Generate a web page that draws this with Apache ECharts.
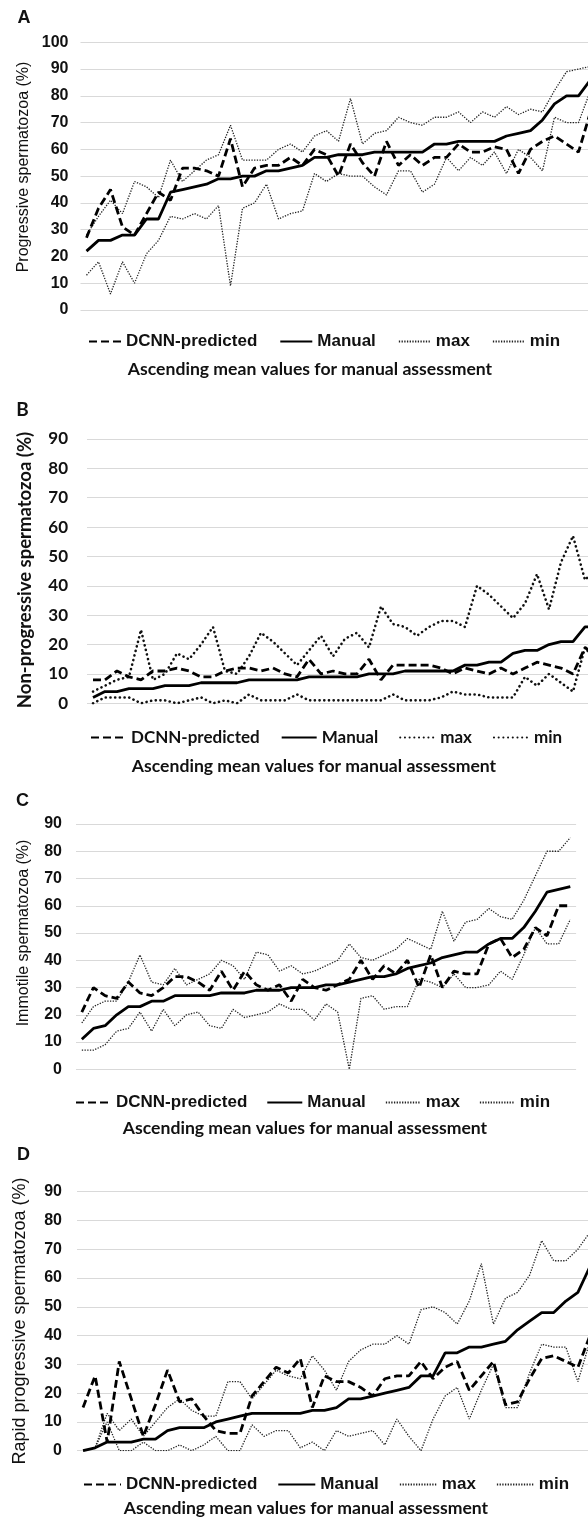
<!DOCTYPE html>
<html>
<head>
<meta charset="utf-8">
<script src="https://cdn.jsdelivr.net/npm/echarts@6/dist/echarts.min.js"></script>
<style>
  html, body { margin: 0; padding: 0; background: #fff; }
  body { width: 588px; height: 1519px; overflow: hidden; position: relative; }
  .panel { position: absolute; left: 0; width: 610px; }
</style>
</head>
<body>
<div id="pa" class="panel" style="top:0;height:380px"></div>
<div id="pb" class="panel" style="top:380px;height:395px"></div>
<div id="pc" class="panel" style="top:775px;height:365px"></div>
<div id="pd" class="panel" style="top:1140px;height:379px"></div>
<script>
// samples, sorted by the manual mean (no labels shown on the axis)
const samples = Array.from({ length: 43 }, (_, i) => String(i + 1))

// A - progressive
const progDcnn = [27,38,45,31,28,36,44,41,53,53,52,50,64,46,53,54,54,57,54,60,58,50,62,55,50,63,54,58,54,57,57,62,59,59,61,60,51,60,63,65,62,59,74]
const progManual = [22,26,26,28,28,34,34,44,45,46,47,49,49,50,50,52,52,53,54,57,57,58,58,58,59,59,59,59,59,62,62,63,63,63,63,65,66,67,71,77,80,80,86]
const progMax = [28,35,41,36,48,46,42,56,48,52,56,58,69,56,56,56,60,62,59,65,67,63,79,62,66,67,72,70,69,72,72,74,70,74,72,76,73,75,74,82,89,90,91]
const progMin = [13,18,6,18,10,21,26,35,34,36,34,39,9,38,40,47,34,36,37,51,48,51,50,50,46,43,52,52,44,47,57,52,57,54,59,51,60,57,52,72,70,70,82]

// B - non-progressive
const nonDcnn = [8,8,11,9,8,11,11,12,11,9,9,11,12,12,11,12,10,9,15,10,11,10,10,15,8,13,13,13,13,12,10,12,11,10,12,10,12,14,13,12,10,19,16]
const nonManual = [2,4,4,5,5,5,6,6,6,7,7,7,7,8,8,8,8,8,9,9,9,9,9,10,10,10,11,11,11,11,11,13,13,14,14,17,18,18,20,21,21,26,26]
const nonMax = [4,6,8,9,25,8,10,17,15,20,26,11,10,16,24,21,17,13,18,23,16,22,24,19,33,27,26,23,26,28,28,26,40,37,33,29,34,44,32,48,57,42,46]
const nonMin = [0,2,2,2,0,1,1,0,1,2,0,1,0,3,1,1,1,3,1,1,1,1,1,1,1,3,1,1,1,2,4,3,3,2,2,2,9,6,10,7,4,19,14]

// C - immotile
const immDcnn = [21,30,27,26,32,28,27,30,34,34,32,29,36,29,36,31,29,31,25,33,30,29,31,33,40,33,38,35,40,30,42,30,36,35,35,46,48,41,44,52,49,60,60]
const immManual = [11,15,16,20,23,23,25,25,27,27,27,27,28,28,28,29,29,29,30,30,30,31,31,32,33,34,34,35,37,38,39,41,42,43,43,46,48,48,52,58,65,66,67]
const immMax = [17,23,25,25,32,42,32,31,37,31,33,35,40,38,33,43,42,36,38,35,36,38,40,46,41,40,42,44,48,46,44,58,47,54,55,59,56,55,62,71,80,80,85]
const immMin = [7,7,9,14,15,21,14,22,16,20,21,16,15,22,19,20,21,24,22,22,18,24,21,0,26,27,22,23,23,33,32,30,35,30,30,31,36,33,42,52,46,46,55]

// D - rapid progressive
const rapidDcnn = [15,26,3,31,18,5,16,28,17,18,12,7,6,6,19,24,29,27,32,15,26,24,24,22,19,25,26,26,31,25,29,31,21,26,31,16,17,25,32,33,31,29,40]
const rapidManual = [0,1,3,3,3,4,4,7,8,8,8,10,11,12,13,13,13,13,13,14,14,15,18,18,19,20,21,22,26,26,34,34,36,36,37,38,42,45,48,48,52,55,64]
const rapidMax = [0,1,13,7,11,5,10,15,18,14,12,12,24,24,18,23,28,26,25,33,28,21,31,35,37,37,40,37,49,50,48,44,52,65,44,53,55,61,73,66,66,70,76]
const rapidMin = [0,1,10,0,0,3,0,0,2,0,2,5,0,0,9,5,7,7,1,3,0,7,5,6,7,2,11,5,0,11,19,22,11,21,30,15,15,27,37,36,36,24,38]

const legendNames = ['DCNN-predicted', 'Manual', 'max', 'min']
const xTitle = 'Ascending mean values for manual assessment'

const ARIAL = '"Liberation Sans", Arial, sans-serif'
const CALIBRI = 'Lato, "Open Sans", sans-serif'
const INK = '#111'

const thinDot = { color: '#222', width: 1.3, type: [1.3, 1.4] }
const boldDot = { color: '#111', width: 2.6, type: [0.1, 4.6], cap: 'round' }

function makePanel(id, p) {
  const chart = echarts.init(document.getElementById(id))
  const font = p.calibri ? CALIBRI : ARIAL
  const tickSize = p.calibri ? 17 : 16
  const line = (name, data, style, z) => ({
    name, type: 'line', data, symbol: 'none', silent: true, z,
    itemStyle: { color: style.color },
    lineStyle: style,
  })

  chart.setOption({
    animation: false,
    grid: { left: p.left, top: p.top, width: p.catW * samples.length, height: p.height },
    xAxis: {
      type: 'category', data: samples, boundaryGap: true,
      axisLine: { show: false }, axisTick: { show: false }, axisLabel: { show: false },
    },
    yAxis: {
      type: 'value', min: 0, max: p.ymax, interval: 10,
      axisLine: { show: false }, axisTick: { show: false },
      axisLabel: { margin: p.margin, fontFamily: font, fontSize: tickSize, fontWeight: 'bold', color: INK },
      splitLine: { lineStyle: { color: '#d9d9d9', width: 1.2 } },
    },
    legend: {
      data: legendNames, left: p.legend[0], top: p.legend[1],
      itemWidth: p.iconW, itemHeight: 14, itemGap: p.gap,
      itemStyle: { opacity: 0 },
      textStyle: { fontFamily: font, fontSize: 17, fontWeight: 'bold', color: INK },
    },
    graphic: [
      { type: 'text', x: p.tag[0], y: p.tag[1],
        style: { text: p.tagText, font: `bold ${p.calibri ? 19 : 18}px ${font}`, fill: INK, align: 'center', verticalAlign: 'middle' } },
      { type: 'text', x: p.yTitle[0], y: p.yTitle[1], rotation: Math.PI / 2,
        style: { text: p.yName, font: p.yFont, fill: INK, align: 'center', verticalAlign: 'middle' } },
      { type: 'text', x: p.xTitle[0], y: p.xTitle[1],
        style: { text: xTitle, font: `bold 17.6px ${CALIBRI}`, fill: INK, align: 'center', verticalAlign: 'middle' } },
    ],
    series: [
      line('max', p.max, p.dot, 2),
      line('min', p.min, p.dot, 2),
      line('DCNN-predicted', p.dcnn, { color: '#000', width: 2.8, type: [8, 4] }, 4),
      line('Manual', p.manual, { color: '#000', width: 2.8 }, 5),
    ],
  })
  return chart
}

makePanel('pa', {
  tagText: 'A', tag: [24, 18], yName: 'Progressive spermatozoa (%)', yFont: `16px ${ARIAL}`, yTitle: [24, 167],
  xTitle: [310, 369], left: 80.5, top: 42.3, height: 267.7, catW: 12, ymax: 100, margin: 12,
  legend: [83, 328], iconW: 32, gap: 22, dot: thinDot,
  dcnn: progDcnn, manual: progManual, max: progMax, min: progMin,
})

makePanel('pb', {
  tagText: 'B', tag: [22.5, 30], yName: 'Non-progressive spermatozoa (%)', yFont: `bold 18.5px ${CALIBRI}`, yTitle: [25.5, 190],
  xTitle: [314, 386], left: 87, top: 59, height: 264.3, catW: 12, ymax: 90, margin: 19, calibri: true,
  legend: [85, 344], iconW: 35, gap: 21, dot: boldDot,
  dcnn: nonDcnn, manual: nonManual, max: nonMax, min: nonMin,
})

makePanel('pc', {
  tagText: 'C', tag: [22.5, 26], yName: 'Immotile spermatozoa (%)', yFont: `16px ${ARIAL}`, yTitle: [23.5, 158],
  xTitle: [305, 353], left: 76, top: 49, height: 245.3, catW: 11.63, ymax: 90, margin: 14,
  legend: [70, 314], iconW: 35, gap: 19, dot: thinDot,
  dcnn: immDcnn, manual: immManual, max: immMax, min: immMin,
})

makePanel('pd', {
  tagText: 'D', tag: [23.5, 15], yName: 'Rapid progressive spermatozoa (%)', yFont: `18px ${ARIAL}`, yTitle: [20, 181],
  xTitle: [306, 368], left: 77, top: 51.7, height: 259, catW: 12.07, ymax: 90, margin: 15,
  legend: [78, 331], iconW: 37, gap: 20, dot: thinDot,
  dcnn: rapidDcnn, manual: rapidManual, max: rapidMax, min: rapidMin,
})
</script>
</body>
</html>
